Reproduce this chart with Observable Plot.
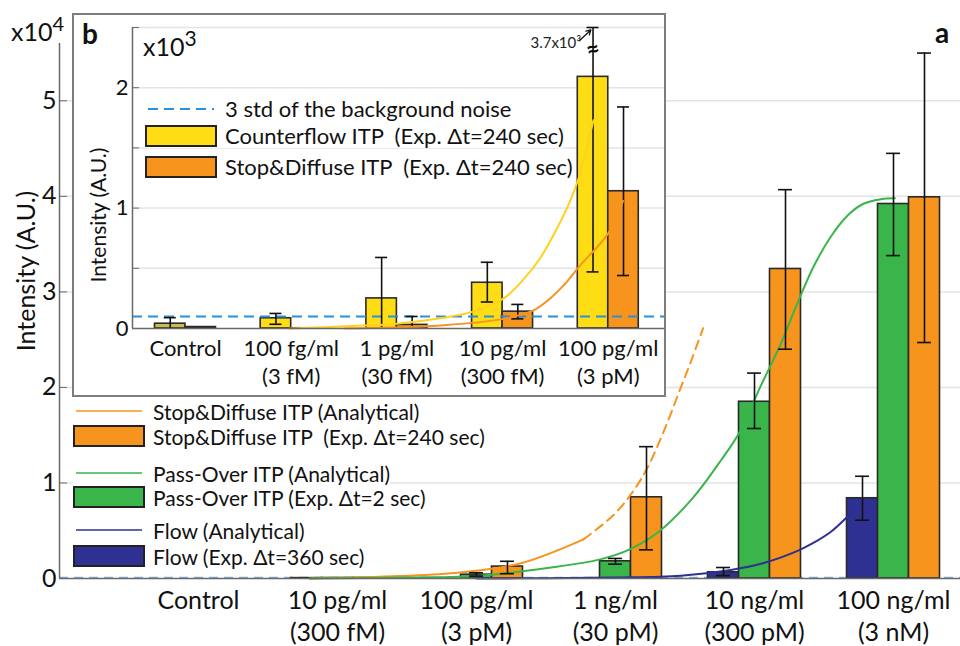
<!DOCTYPE html>
<html><head><meta charset="utf-8">
<script src="https://cdn.jsdelivr.net/npm/d3@7"></script>
<script src="https://cdn.jsdelivr.net/npm/@observablehq/plot@0.6"></script>
<style>
body{margin:0;background:#fff;font-family:Lato,"Open Sans",sans-serif;color:#111;}
#wrap{position:relative;width:960px;height:646px;overflow:hidden;background:#fff;}
#main{position:absolute;left:0;top:0;}
#insetBox{position:absolute;left:72px;top:13px;width:594px;height:384px;border:2px solid #7d7d7d;box-sizing:border-box;background:#fff;}
#inset{position:absolute;left:0;top:0;}
.lbl{position:absolute;white-space:pre;line-height:1;}
.row{position:absolute;display:flex;align-items:center;white-space:pre;background:#fff;height:24px;line-height:1;}
.row svg{margin-right:8px;flex:none;}
</style></head>
<body><div id="wrap"><div id="main"></div><div id="insetBox"><div id="inset"></div></div></div>
<script>
// ---------------- main chart (a), values in units of 10^4 ----------------
const mainCats  = ["Control", "10 pg/ml", "100 pg/ml", "1 ng/ml", "10 ng/ml", "100 ng/ml"];
const mainMolar = ["", "(300 fM)", "(3 pM)", "(30 pM)", "(300 pM)", "(3 nM)"];
const mainYTicks = [0, 1, 2, 3, 4, 5];
const flowVals = [0, 0.004, 0, 0, 0.065, 0.84];
const flowLo   = [null, null, null, null, 0.03, 0.61];
const flowHi   = [null, null, null, null, 0.115, 1.07];
const passVals = [0, 0.005, 0.04, 0.18, 1.85, 3.92];
const passLo   = [null, null, 0.025, 0.15, 1.57, 3.38];
const passHi   = [null, null, 0.06, 0.21, 2.15, 4.45];
const stopVals = [0, 0.006, 0.125, 0.85, 3.24, 3.99];
const stopLo   = [null, null, 0.05, 0.30, 2.40, 2.47];
const stopHi   = [null, null, 0.18, 1.38, 4.07, 5.50];
const mainNoise = 0.01;
// analytical curves: x = category index position, y = intensity (10^4)
const stopCurveX = [0.8, 1.45, 1.88, 2.32, 2.77];
const stopCurveY = [0, 0.025, 0.062, 0.16, 0.41];
const stopDashX  = [2.77, 2.99, 3.13, 3.23, 3.35, 3.47, 3.55, 3.63];
const stopDashY  = [0.41, 0.67, 0.92, 1.16, 1.55, 2.0, 2.3, 2.62];
const passCurveX = [0.8, 1.5, 2.03, 2.51, 2.89, 3.11, 3.32, 3.56, 3.76, 3.90, 4.04, 4.19, 4.30, 4.42, 4.55, 4.67, 4.78, 4.91, 5.01];
const passCurveY = [0, 0.01, 0.03, 0.11, 0.20, 0.31, 0.50, 0.85, 1.24, 1.55, 2.0, 2.46, 2.85, 3.25, 3.58, 3.80, 3.92, 3.97, 3.98];
const flowCurveX = [2.0, 2.5, 2.99, 3.47, 3.83, 4.06, 4.31, 4.42, 4.55, 4.67, 4.78];
const flowCurveY = [0, 0.003, 0.01, 0.03, 0.09, 0.16, 0.29, 0.37, 0.49, 0.65, 0.82];

// ---------------- inset chart (b), values in units of 10^3 ----------------
const insetCats  = ["Control", "100 fg/ml", "1 pg/ml", "10 pg/ml", "100 pg/ml"];
const insetMolar = ["", "(3 fM)", "(30 fM)", "(300 fM)", "(3 pM)"];
const insetYTicks = [0, 0.5, 1, 1.5, 2, 2.5];
const insetYLabels = [0, 1, 2];
const cfVals = [0.04, 0.085, 0.25, 0.38, 2.09];
const cfLo   = [0.0, 0.035, 0.0, 0.22, 0.47];
const cfHi   = [0.09, 0.125, 0.59, 0.55, 3.7];
const sdVals = [0.012, 0.002, 0.03, 0.14, 1.14];
const sdLo   = [null, null, 0.0, 0.08, 0.44];
const sdHi   = [null, null, 0.10, 0.20, 1.84];
const insetNoise = 0.1;
const cfCurveX = [0.99, 1.56, 2.0, 2.41, 2.72, 3.01, 3.2, 3.36, 3.52, 3.64, 3.72, 3.86];
const cfCurveY = [0, 0.02, 0.04, 0.085, 0.14, 0.25, 0.41, 0.59, 0.84, 1.06, 1.25, 1.73];
const sdCurveX = [1.5, 2.03, 2.41, 3.01, 3.29, 3.45, 3.61, 3.72, 4.0, 4.14];
const sdCurveY = [0, 0.01, 0.025, 0.08, 0.15, 0.25, 0.39, 0.51, 0.79, 1.06];

// ---------------- styles ----------------
const C = {flow:"#2e3192", pass:"#39b54a", stop:"#f7941e", cf:"#ffdd15", cfCtrl:"#cbbb4c", sdCtrl:"#8a8a7a",
  grid:"#e4e4e4", axis:"#6a6a6a", noise:"#2a8fd8", noiseMain:"#7fb0d8", bar:"#2a2a2a", cfLine:"#ffd21a"};
const FONT = "Lato, 'Open Sans', sans-serif";
const intFmt = d3.format("d");
const CURVE = "catmull-rom";

// ---------------- main plot ----------------
const mainXDomain = [-1.0, 5.482];
const mainYDomain = [0, 5.6];
const bwMain = 0.223, capMain = 0.05;
const series = [
  {key:"flow", vals:flowVals, lo:flowLo, hi:flowHi, off:-1},
  {key:"pass", vals:passVals, lo:passLo, hi:passHi, off:0},
  {key:"stop", vals:stopVals, lo:stopLo, hi:stopHi, off:1}
];
const mainBars = [], mainErr = [];
series.forEach(s => s.vals.forEach((v, i) => {
  const xc = i + s.off * bwMain;
  if (v > 0) mainBars.push({x1: xc - bwMain/2, x2: xc + bwMain/2, v, key: s.key});
  if (s.hi[i] != null) mainErr.push({x: xc, lo: s.lo[i], hi: s.hi[i]});
}));
const pts = (X, Y) => X.map((x, i) => ({x, y: Y[i]}));

const mainPlot = Plot.plot({
  width: 960, height: 646,
  marginLeft: 59, marginRight: 0, marginTop: 43, marginBottom: 68,
  x: {domain: mainXDomain, axis: null},
  y: {domain: mainYDomain, axis: null},
  style: {fontFamily: FONT, background: "transparent", overflow: "visible"},
  marks: [
    Plot.gridY(mainYTicks.filter(d => d > 0), {stroke: C.grid, strokeOpacity: 1, strokeWidth: 1.5}),
    Plot.ruleY([mainNoise], {stroke: C.noiseMain, strokeWidth: 1.5, strokeDasharray: "9,6"}),
    Plot.rectY(mainBars, {x1: "x1", x2: "x2", y1: 0, y2: "v", fill: d => C[d.key], stroke: C.bar, strokeWidth: 1.6}),
    Plot.line(pts(stopCurveX, stopCurveY), {x: "x", y: "y", stroke: C.stop, strokeWidth: 2, curve: CURVE}),
    Plot.line(pts(stopDashX, stopDashY), {x: "x", y: "y", stroke: C.stop, strokeWidth: 2, strokeDasharray: "9,6", curve: CURVE}),
    Plot.line(pts(passCurveX, passCurveY), {x: "x", y: "y", stroke: C.pass, strokeWidth: 2, curve: CURVE}),
    Plot.line(pts(flowCurveX, flowCurveY), {x: "x", y: "y", stroke: C.flow, strokeWidth: 2, curve: CURVE}),
    Plot.ruleX(mainErr, {x: "x", y1: "lo", y2: "hi", stroke: "#111", strokeWidth: 1.6}),
    Plot.ruleY(mainErr, {y: "hi", x1: d => d.x - capMain, x2: d => d.x + capMain, stroke: "#111", strokeWidth: 1.6}),
    Plot.ruleY(mainErr, {y: "lo", x1: d => d.x - capMain, x2: d => d.x + capMain, stroke: "#111", strokeWidth: 1.6}),
    Plot.ruleX([mainXDomain[0]], {stroke: C.axis, strokeWidth: 1.5}),
    Plot.ruleY([0], {stroke: C.axis, strokeWidth: 1.5}),
    Plot.axisY({ticks: mainYTicks, tickSize: 8, dx: 8, tickFormat: () => "", stroke: C.axis}),
    Plot.axisY({ticks: mainYTicks, tickSize: 0, tickPadding: 3, tickFormat: intFmt, fontSize: 25, fill: "#111"}),
    Plot.text(mainCats, {x: (d, i) => i, y: 0, text: (d, i) => mainMolar[i] ? d + "\n" + mainMolar[i] : d,
      lineAnchor: "top", dy: 7, fontSize: 25, lineHeight: 1.3, fill: "#111"})
  ]
});
document.getElementById("main").appendChild(mainPlot);

// ---------------- inset plot ----------------
const insetXDomain = [-0.5014, 4.532];
const insetYDomain = [0, 2.5];
const bwIn = 0.2885, capIn = 0.057;
const insetBars = [], insetErr = [];
cfVals.forEach((v, i) => {
  const xc = i - bwIn/2;
  insetBars.push({x1: xc - bwIn/2, x2: xc + bwIn/2, v, fill: i === 0 ? C.cfCtrl : C.cf});
  insetErr.push({x: xc, lo: cfLo[i], hi: Math.min(cfHi[i], insetYDomain[1]), full: cfHi[i]});
});
sdVals.forEach((v, i) => {
  const xc = i + bwIn/2;
  insetBars.push({x1: xc - bwIn/2, x2: xc + bwIn/2, v, fill: i === 0 ? C.sdCtrl : C.stop});
  if (sdHi[i] != null) insetErr.push({x: xc, lo: sdLo[i], hi: sdHi[i], full: sdHi[i]});
});
const broken = insetErr.filter(d => d.full > insetYDomain[1]);

const insetPlot = Plot.plot({
  width: 590, height: 380,
  marginLeft: 58, marginRight: 0, marginTop: 12, marginBottom: 67,
  x: {domain: insetXDomain, axis: null},
  y: {domain: insetYDomain, axis: null},
  style: {fontFamily: FONT, background: "transparent", overflow: "visible"},
  marks: [
    Plot.gridY(insetYTicks.filter(d => d > 0), {stroke: C.grid, strokeOpacity: 1, strokeWidth: 1.5}),
    Plot.rectY(insetBars, {x1: "x1", x2: "x2", y1: 0, y2: "v", fill: "fill", stroke: C.bar, strokeWidth: 1.6}),
    Plot.ruleY([insetNoise], {stroke: C.noise, strokeWidth: 2, strokeDasharray: "10,6"}),
    Plot.ruleX(insetErr, {x: "x", y1: "lo", y2: "hi", stroke: "#111", strokeWidth: 1.6}),
    Plot.ruleY(insetErr, {y: "hi", x1: d => d.x - capIn, x2: d => d.x + capIn, stroke: "#111", strokeWidth: 1.6}),
    Plot.ruleY(insetErr.filter(d => d.lo > 0), {y: "lo", x1: d => d.x - capIn, x2: d => d.x + capIn, stroke: "#111", strokeWidth: 1.6}),
    Plot.line(pts(cfCurveX, cfCurveY), {x: "x", y: "y", stroke: C.cfLine, strokeWidth: 2, curve: CURVE}),
    Plot.line(pts(sdCurveX, sdCurveY), {x: "x", y: "y", stroke: C.stop, strokeWidth: 2, curve: CURVE}),
    // axis break on the clipped error bar and its true value
    Plot.text(broken, {x: "x", y: d => d.hi, text: () => "≈", dy: 22, fontSize: 24, fontWeight: "bold", fill: "#111", rotate: -15}),
    Plot.arrow(broken, {x1: d => d.x - 0.13, y1: d => d.hi - 0.11, x2: d => d.x - 0.02, y2: d => d.hi - 0.02,
      stroke: "#111", strokeWidth: 1.3, headLength: 6}),
    Plot.text(broken, {x: d => d.x - 0.13, y: d => d.hi - 0.13, text: d => (d.full).toFixed(1) + "x10³",
      textAnchor: "end", fontSize: 15, fill: "#222", dx: 2}),
    Plot.ruleX([insetXDomain[0]], {y1: insetYDomain[0], y2: insetYDomain[1], stroke: C.axis, strokeWidth: 1.5}),
    Plot.ruleY([0], {stroke: C.axis, strokeWidth: 1.5}),
    Plot.axisY({ticks: insetYTicks, tickSize: 7, dx: 7, tickFormat: () => "", stroke: C.axis}),
    Plot.axisY({ticks: insetYLabels, tickSize: 0, tickPadding: 4, tickFormat: intFmt, fontSize: 22, fill: "#111"}),
    Plot.text(insetCats, {x: (d, i) => i, y: 0, text: (d, i) => insetMolar[i] ? d + "\n" + insetMolar[i] : d,
      lineAnchor: "top", dy: 7, fontSize: 22, lineHeight: 1.3, fill: "#111"})
  ]
});
document.getElementById("inset").appendChild(insetPlot);

// ---------------- labels & legends (HTML) ----------------
const wrap = document.getElementById("wrap");
const box = document.getElementById("insetBox");
function addLabel(parent, html, css) {
  const d = document.createElement("div"); d.className = "lbl"; d.innerHTML = html;
  Object.assign(d.style, css); parent.appendChild(d); return d;
}
addLabel(wrap, "x10<span style='font-size:20px;position:relative;top:-10px'>4</span>", {left: "11px", top: "19px", fontSize: "25px"});
addLabel(wrap, "a", {left: "935px", top: "18px", fontSize: "28px", fontWeight: "bold"});
addLabel(wrap, "Intensity (A.U.)", {left: "25px", top: "271px", fontSize: "25px", transform: "translate(-50%,-50%) rotate(-90deg)"});
addLabel(box, "b", {left: "8px", top: "4px", fontSize: "28px", fontWeight: "bold"});
addLabel(box, "x10<span style='font-size:21px;position:relative;top:-10px'>3</span>", {left: "69px", top: "19px", fontSize: "25px"});
addLabel(box, "Intensity (A.U.)", {left: "23px", top: "200px", fontSize: "21px", transform: "translate(-50%,-50%) rotate(-90deg)"});

function sample(kind, color) {
  const ns = "http://www.w3.org/2000/svg";
  const s = document.createElementNS(ns, "svg");
  s.setAttribute("width", 72); s.setAttribute("height", 24);
  if (kind === "box") {
    const r = document.createElementNS(ns, "rect");
    r.setAttribute("x", 1); r.setAttribute("y", 2); r.setAttribute("width", 70); r.setAttribute("height", 20);
    r.setAttribute("fill", color); r.setAttribute("stroke", "#222"); r.setAttribute("stroke-width", 2);
    s.appendChild(r);
  } else {
    const l = document.createElementNS(ns, "line");
    l.setAttribute("x1", 3); l.setAttribute("x2", 69); l.setAttribute("y1", 12); l.setAttribute("y2", 12);
    l.setAttribute("stroke", color); l.setAttribute("stroke-width", kind === "dash" ? 2 : 1.5);
    if (kind === "dash") l.setAttribute("stroke-dasharray", "10,6");
    s.appendChild(l);
  }
  return s;
}
function addRow(parent, left, cy, kind, color, text, fs) {
  const d = document.createElement("div"); d.className = "row";
  d.style.left = left + "px"; d.style.top = (cy - 12) + "px"; d.style.fontSize = fs + "px";
  d.appendChild(sample(kind, color));
  const t = document.createElement("span"); t.textContent = text; d.appendChild(t);
  parent.appendChild(d);
}
const mainLegend = [
  ["line", C.stop, "Stop&Diffuse ITP (Analytical)", 411],
  ["box",  C.stop, "Stop&Diffuse ITP  (Exp. Δt=240 sec)", 436],
  ["line", C.pass, "Pass-Over ITP (Analytical)", 473],
  ["box",  C.pass, "Pass-Over ITP (Exp. Δt=2 sec)", 497],
  ["line", C.flow, "Flow (Analytical)", 530],
  ["box",  C.flow, "Flow (Exp. Δt=360 sec)", 556]
];
mainLegend.forEach(([k, c, t, y]) => addRow(wrap, 73, y, k, c, t, 21));
const insetLegend = [
  ["dash", C.noise, "3 std of the background noise", 109],
  ["box",  C.cf,    "Counterflow ITP  (Exp. Δt=240 sec)", 136],
  ["box",  C.stop,  "Stop&Diffuse ITP  (Exp. Δt=240 sec)", 167]
];
insetLegend.forEach(([k, c, t, y]) => addRow(box, 145 - 74, y - 15, k, c, t, 22));
</script>
</body></html>
